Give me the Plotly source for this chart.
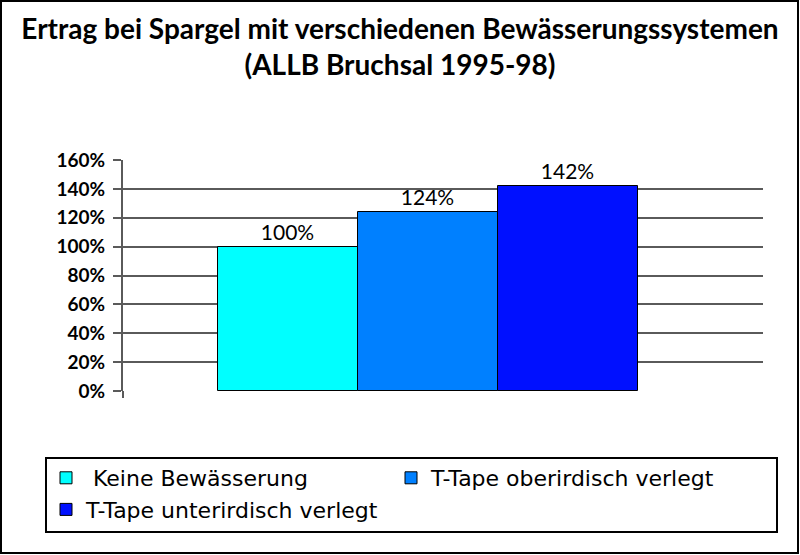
import plotly.graph_objects as go

series_names = [" Keine Bewässerung", "T-Tape oberirdisch verlegt", "T-Tape unterirdisch verlegt"]
values = [100, 124, 142]
positions = [0, 1, 2]
colors = ["#00FFFF", "#0080FF", "#0010FF"]
y_ticks = [0, 20, 40, 60, 80, 100, 120, 140, 160]
y_tick_labels = [f"{v}%" for v in y_ticks]

W, H = 800, 555
L, R, T, B = 123, 37, 160, 164
pw, ph = W - L - R, H - T - B

def px2x(p):
    return (p - L) / pw

def px2y(p):
    return (H - B - p) / ph

fig = go.Figure()
for name, v, xpos, c in zip(series_names, values, positions, colors):
    fig.add_trace(go.Bar(
        x=[xpos], y=[v], name=name, width=1,
        marker=dict(color=c, line=dict(color="black", width=1)),
        text=[f"{v}%"], textposition="outside",
        textfont=dict(family="Lato", size=21, color="black"),
        cliponaxis=False,
    ))

fig.update_layout(
    width=W, height=H,
    margin=dict(l=L, r=R, t=T, b=B),
    paper_bgcolor="white", plot_bgcolor="white",
    title=dict(
        text="Ertrag bei Spargel mit verschiedenen Bewässerungssystemen<br>(ALLB Bruchsal 1995-98)",
        x=0.5, xanchor="center", y=1 - 39 / H, yanchor="top",
        font=dict(family="Lato", size=28, color="black", weight="bold"),
    ),
    xaxis=dict(range=[-1.175, 3.396], showticklabels=False, showgrid=False,
               zeroline=False, ticks=""),
    yaxis=dict(range=[0, 160], tickvals=y_ticks, ticktext=y_tick_labels,
               showgrid=True, gridcolor="#5a5a5a", gridwidth=2,
               showline=True, linecolor="#5a5a5a", linewidth=2,
               ticks="outside", ticklen=8, tickcolor="#5a5a5a", tickwidth=2,
               zeroline=False, ticklabelstandoff=4,
               tickfont=dict(family="Lato", size=19, color="black", weight="bold")),
    showlegend=True,
    legend=dict(
        orientation="h", x=px2x(46), xanchor="left", y=px2y(457), yanchor="top",
        borderwidth=0, bgcolor="rgba(0,0,0,0)",
        font=dict(family="DejaVu Sans", size=22, color="black"),
        entrywidth=300, traceorder="normal",
    ),
    bargap=0,
    shapes=[
        dict(type="rect", xref="paper", yref="paper",
             x0=px2x(1), x1=px2x(798), y0=px2y(553), y1=px2y(1),
             line=dict(color="black", width=2), layer="below"),
        dict(type="rect", xref="paper", yref="paper",
             x0=px2x(46), x1=px2x(777), y0=px2y(532), y1=px2y(458),
             line=dict(color="black", width=2), layer="below"),
        dict(type="line", xref="paper", yref="paper",
             x0=0, x1=0, y0=px2y(398), y1=0,
             line=dict(color="#5a5a5a", width=2)),
    ],
)

fig.write_html("out.html")
